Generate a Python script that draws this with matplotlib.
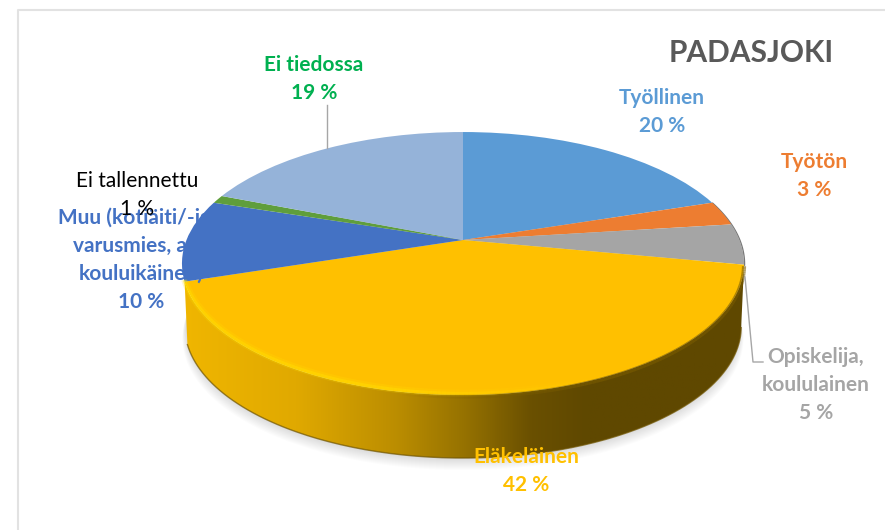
import numpy as np
import matplotlib
matplotlib.use("Agg")
import matplotlib.pyplot as plt
from matplotlib.collections import LineCollection
from matplotlib.colors import LinearSegmentedColormap, to_rgb
from matplotlib.path import Path
from matplotlib.transforms import Transform

plt.rcParams['font.family'] = ['Lato', 'DejaVu Sans']

# --- data ---
title = "PADASJOKI"
names = ["Työllinen", "Työtön", "Opiskelija,\nkoululainen", "Eläkeläinen",
         "Muu (kotiäiti/-isä,\nvarusmies, alle\nkouluikäinen)", "Ei tallennettu", "Ei tiedossa"]
values = [20, 3, 5, 42, 10, 1, 19]
slice_colors = ["#5b9bd5", "#ed7d31", "#a5a5a5", "#ffc000", "#4472c4", "#5f9e3c", "#95b3d9"]
text_colors = ["#5b9bd5", "#ed7d31", "#a5a5a5", "#ffc000", "#4472c4", "black", "#00b050"]


# the pie is a tilted disc, the far side looks smaller than the near side
class Tilt(Transform):
    input_dims = 2
    output_dims = 2

    def transform_non_affine(self, values):
        x, y = np.asarray(values).T
        w = 1 + 0.179 * y
        return np.column_stack((463 + 276.5 * x / w, 240 - 127.3 * y / w))


tilt = Tilt()


def arc(t1, t2, n=200):
    t = np.radians(np.linspace(t1, t2, n))
    return tilt.transform(np.column_stack((np.cos(t), np.sin(t))))


def lower(pts, grow=0.99, drop=63):
    # same arc at the bottom edge of the disc
    out = pts.copy()
    out[:, 0] = 464 + (out[:, 0] - 464) * grow
    out[:, 1] = out[:, 1] + drop
    return out


fig = plt.figure(figsize=(8.85, 5.3), dpi=100)
ax = fig.add_axes([0, 0, 1, 1])

wedges, _ = ax.pie(values, colors=slice_colors, startangle=90, counterclock=False)
ax.set_aspect('auto')
ax.set_xlim(0, 885)
ax.set_ylim(530, 0)
ax.axis('off')

for w in wedges:
    w.set_transform(tilt + ax.transData)
    w.set_zorder(3)
    w.set_linewidth(0)

# frame of the original picture
ax.plot([18, 18, 885], [530, 10, 10], color="#e2e2e2", lw=1.5, zorder=0)

# soft shadow under the disc
full = arc(0, 360, 400)
for i in range(12):
    ax.fill(*lower(full, 0.985 + i * 0.0012, 64 + i).T, color="#808080", alpha=0.022, lw=0, zorder=1)

# side of the yellow slice
gold = wedges[3]
top_edge = arc(gold.theta1, gold.theta2)
bottom_edge = lower(top_edge)
rim = np.vstack((top_edge, bottom_edge[::-1]))
rim_cmap = LinearSegmentedColormap.from_list(
    "rim", [(0, "#f0b600"), (0.2, "#e0a900"), (0.38, "#bb8d00"), (0.5, "#967200"),
            (0.62, "#6a5000"), (0.72, "#5f4800"), (1, "#5f4800")])
im = ax.imshow(np.linspace(0, 1, 256)[None, :], extent=(183, 745, 470, 260), cmap=rim_cmap,
               aspect='auto', zorder=2)
im.set_clip_path(Path(rim), ax.transData)
ax.set_xlim(0, 885)
ax.set_ylim(530, 0)
ax.plot(bottom_edge[:, 0], bottom_edge[:, 1], color="#6f5400", lw=1, alpha=0.7, zorder=2.5)

# bevel along the front edge, bright on the left and darkening to the right
segs = np.stack((top_edge[:-1], top_edge[1:]), axis=1)
mid_x = segs[:, :, 0].mean(axis=1)
bright = np.clip((600 - mid_x) / 200, 0, 1)
for lw, a, shift in [(5, 0.2, -2), (2.5, 0.45, -1.5)]:
    cols = np.zeros((len(segs), 4))
    cols[:, :3] = to_rgb("#ffe000")
    cols[:, 3] = a * bright
    ax.add_collection(LineCollection(segs + [0, shift], colors=cols, linewidths=lw, zorder=4))
cols = np.zeros((len(segs), 4))
cols[:, :3] = to_rgb("#7a5c00")
cols[:, 3] = 0.6 * (1 - bright)
ax.add_collection(LineCollection(segs + [0, 1.5], colors=cols, linewidths=3, zorder=4))

# thin dark edge where the rim shows past the orange and grey slices
dark = arc(wedges[2].theta1, wedges[1].theta2, 60)
ax.plot(dark[:, 0] + 0.5, dark[:, 1] + 0.5, color="#555555", lw=1, alpha=0.8, zorder=2.5)

# leader lines
ax.plot([327, 327], [105, 148], color="#a6a6a6", lw=1, zorder=5)
ax.plot([745, 753, 763], [277, 362, 362], color="#a6a6a6", lw=1, zorder=5)

# labels
label_xy = [(662, 112), (814, 176), (816, 385), (526, 471), (141, 260), (137, 195), (314, 79)]
for i in range(len(values)):
    ax.text(label_xy[i][0], label_xy[i][1], f"{names[i]}\n{values[i]} %", ha='center', va='center',
            color=text_colors[i], fontsize=15, linespacing=1.5,
            fontweight='normal' if names[i] == "Ei tallennettu" else 'bold', zorder=6)

ax.text(751, 53, title, ha='center', va='center', color="#595959", fontsize=21.5, fontweight='bold', zorder=6)

fig.savefig("out.png", dpi=100)
